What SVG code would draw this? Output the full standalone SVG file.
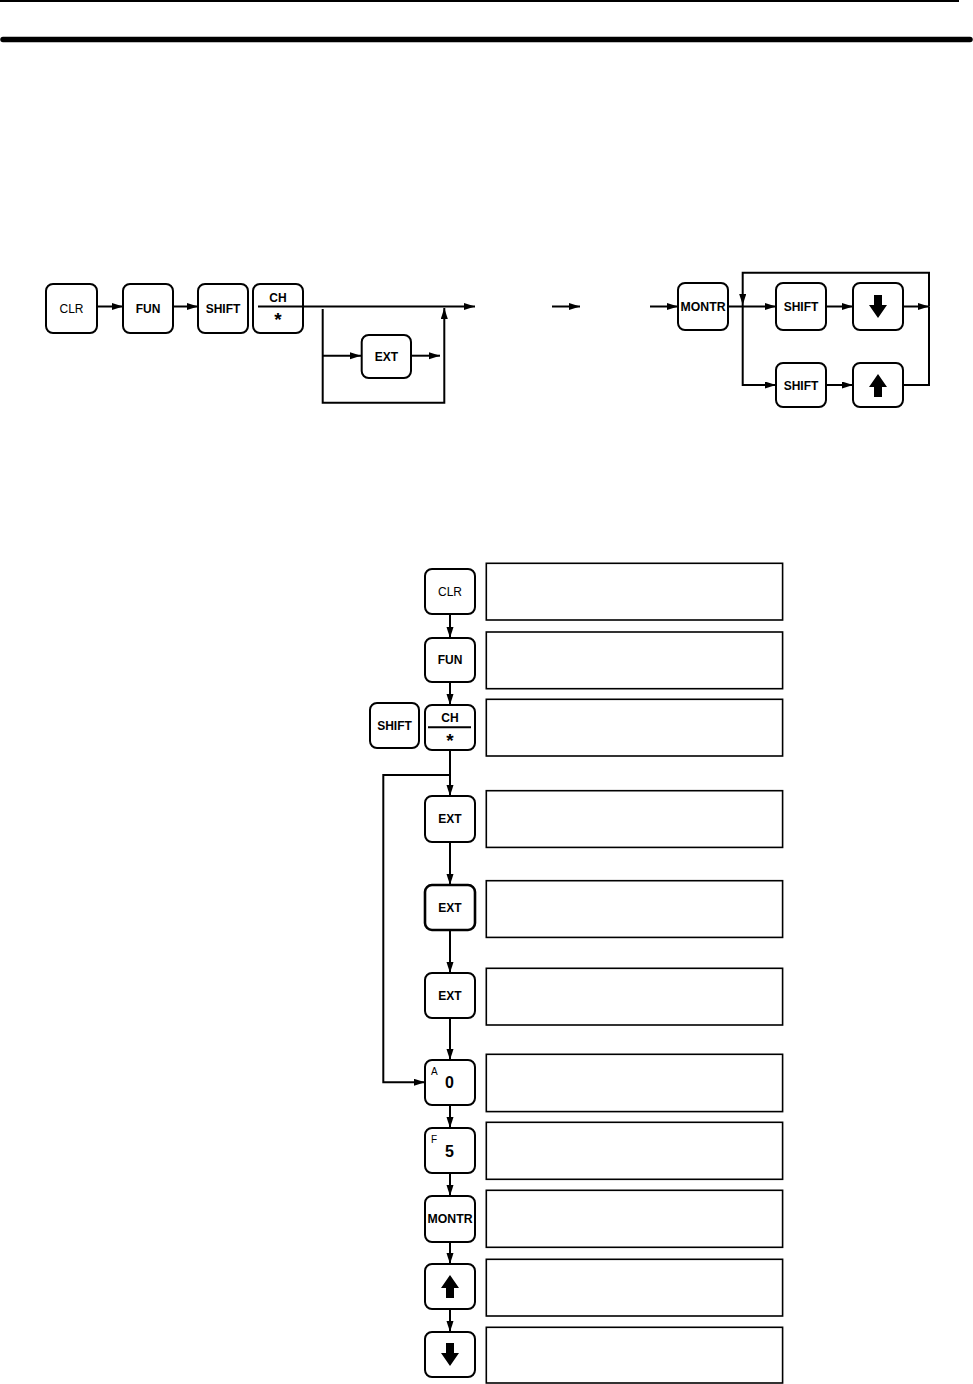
<svg xmlns="http://www.w3.org/2000/svg" width="973" height="1384" viewBox="0 0 973 1384">
<style>
.key{fill:#fff;stroke:#000;stroke-width:2}
.keyb{fill:#fff;stroke:#000;stroke-width:2.6}
.box{fill:#fff;stroke:#000;stroke-width:1.6}
.ln{fill:none;stroke:#000;stroke-width:2}
.t{font-family:"Liberation Sans",Arial,sans-serif;font-size:12px;font-weight:bold;text-anchor:middle}
.tr{font-family:"Liberation Sans",Arial,sans-serif;font-size:12px;text-anchor:middle}
.big{font-family:"Liberation Sans",Arial,sans-serif;font-size:16px;font-weight:bold;text-anchor:middle}
.sup{font-family:"Liberation Sans",Arial,sans-serif;font-size:10px}
.star{font-family:"Liberation Sans",Arial,sans-serif;font-size:19px;font-weight:bold;text-anchor:middle}
</style>
<defs>
<marker id="ah" markerUnits="userSpaceOnUse" markerWidth="12" markerHeight="8" refX="11" refY="3.5" orient="auto">
<path d="M0,0 L11,3.5 L0,7 z" fill="#000"/>
</marker>
<symbol id="dn" viewBox="-9 -12 18 24" overflow="visible">
<path d="M-4,-12 H4 V-2 H9 L0,11 L-9,-2 H-4 z" fill="#000"/>
</symbol>
<symbol id="up" viewBox="-9 -12 18 24" overflow="visible">
<path d="M-4,12 H4 V2 H9 L0,-11 L-9,2 H-4 z" fill="#000"/>
</symbol>
</defs>

<g id="page-rules">
<line x1="0" y1="1" x2="959" y2="1" stroke="#000" stroke-width="2"/>
<line x1="3" y1="39.5" x2="970" y2="39.5" stroke="#000" stroke-width="5.5" stroke-linecap="round"/>
</g>

<g id="connectors">
<line class="ln" x1="97" y1="306.5" x2="123" y2="306.5" marker-end="url(#ah)"/>
<line class="ln" x1="173" y1="306.5" x2="198" y2="306.5" marker-end="url(#ah)"/>
<line class="ln" x1="303" y1="306.5" x2="475" y2="306.5" marker-end="url(#ah)"/>
<polyline class="ln" points="322.7,309 322.7,402.7 444.3,402.7 444.3,308" marker-end="url(#ah)"/>
<line class="ln" x1="322.7" y1="355.7" x2="361" y2="355.7" marker-end="url(#ah)"/>
<line class="ln" x1="411" y1="355.7" x2="440" y2="355.7" marker-end="url(#ah)"/>
<line class="ln" x1="552" y1="306.5" x2="580" y2="306.5" marker-end="url(#ah)"/>
<line class="ln" x1="650" y1="306.5" x2="678" y2="306.5" marker-end="url(#ah)"/>
<line class="ln" x1="728" y1="306.5" x2="776" y2="306.5" marker-end="url(#ah)"/>
<line class="ln" x1="826" y1="306.5" x2="853" y2="306.5" marker-end="url(#ah)"/>
<line class="ln" x1="903" y1="306.5" x2="929" y2="306.5" marker-end="url(#ah)"/>
<polyline class="ln" points="929,306.5 929,272.7 742.7,272.7 742.7,305" marker-end="url(#ah)"/>
<polyline class="ln" points="742.7,305 742.7,385 776,385" marker-end="url(#ah)"/>
<line class="ln" x1="826" y1="385" x2="853" y2="385" marker-end="url(#ah)"/>
<polyline class="ln" points="903,385 929,385 929,306.5"/>
<line class="ln" x1="450" y1="614" x2="450" y2="638" marker-end="url(#ah)"/>
<line class="ln" x1="450" y1="682" x2="450" y2="705" marker-end="url(#ah)"/>
<line class="ln" x1="450" y1="750" x2="450" y2="796" marker-end="url(#ah)"/>
<line class="ln" x1="450" y1="842" x2="450" y2="885" marker-end="url(#ah)"/>
<line class="ln" x1="450" y1="930" x2="450" y2="973" marker-end="url(#ah)"/>
<line class="ln" x1="450" y1="1018" x2="450" y2="1060" marker-end="url(#ah)"/>
<polyline class="ln" points="450,775 383.3,775 383.3,1082.3 425,1082.3" marker-end="url(#ah)"/>
<line class="ln" x1="450" y1="1105" x2="450" y2="1128" marker-end="url(#ah)"/>
<line class="ln" x1="450" y1="1173" x2="450" y2="1196" marker-end="url(#ah)"/>
<line class="ln" x1="450" y1="1242" x2="450" y2="1264" marker-end="url(#ah)"/>
<line class="ln" x1="450" y1="1309" x2="450" y2="1332" marker-end="url(#ah)"/>
</g>

<g id="t-clr"><rect class="key" x="46" y="284" width="51" height="49" rx="7"/><text class="tr" x="71.5" y="312.5">CLR</text></g>
<g id="t-fun"><rect class="key" x="123" y="284" width="50" height="49" rx="7"/><text class="t" x="148" y="312.5">FUN</text></g>
<g id="t-shift"><rect class="key" x="198" y="284" width="50" height="49" rx="7"/><text class="t" x="223" y="312.5">SHIFT</text></g>
<g id="t-ch"><rect class="key" x="253" y="284" width="50" height="49" rx="7"/><text class="t" x="278" y="302">CH</text><line class="ln" x1="258" y1="306.5" x2="303" y2="306.5"/><text class="star" x="278" y="326">*</text></g>
<g id="t-ext"><rect class="key" x="361.7" y="335" width="49.3" height="43" rx="7"/><text class="t" x="386.3" y="360.5">EXT</text></g>
<g id="t-montr"><rect class="key" x="678" y="283" width="50" height="47" rx="7"/><text class="t" x="703" y="310.5" textLength="45" lengthAdjust="spacingAndGlyphs">MONTR</text></g>
<g id="t-shift2"><rect class="key" x="776" y="283" width="50" height="47" rx="7"/><text class="t" x="801" y="311">SHIFT</text></g>
<g id="t-down"><rect class="key" x="853" y="283" width="50" height="47" rx="7"/><use href="#dn" x="869" y="295" width="18" height="24"/></g>
<g id="t-shift3"><rect class="key" x="776" y="363" width="50" height="44" rx="7"/><text class="t" x="801" y="389.5">SHIFT</text></g>
<g id="t-up"><rect class="key" x="853" y="363" width="50" height="44" rx="7"/><use href="#up" x="869" y="373" width="18" height="24"/></g>

<g id="c-clr"><rect class="key" x="425" y="569" width="50" height="45" rx="7"/><text class="tr" x="450" y="595.5">CLR</text><rect class="box" x="486.3" y="563.3" width="296.3" height="56.7"/></g>
<g id="c-fun"><rect class="key" x="425" y="638" width="50" height="44" rx="7"/><text class="t" x="450" y="664">FUN</text><rect class="box" x="486.3" y="632" width="296.3" height="56.7"/></g>
<g id="c-shift"><rect class="key" x="370" y="703" width="49" height="45" rx="7"/><text class="t" x="394.5" y="729.5">SHIFT</text></g>
<g id="c-ch"><rect class="key" x="425" y="705" width="50" height="45" rx="7"/><text class="t" x="450" y="722">CH</text><line class="ln" x1="428" y1="727.3" x2="471" y2="727.3"/><text class="star" x="450" y="747">*</text><rect class="box" x="486.3" y="699.3" width="296.3" height="56.7"/></g>
<g id="c-ext1"><rect class="key" x="425" y="796" width="50" height="46" rx="7"/><text class="t" x="450" y="822.5">EXT</text><rect class="box" x="486.3" y="790.7" width="296.3" height="56.7"/></g>
<g id="c-ext2"><rect class="keyb" x="425" y="885" width="50" height="45" rx="7"/><text class="t" x="450" y="911.5">EXT</text><rect class="box" x="486.3" y="880.7" width="296.3" height="56.7"/></g>
<g id="c-ext3"><rect class="key" x="425" y="973" width="50" height="45" rx="7"/><text class="t" x="450" y="999.5">EXT</text><rect class="box" x="486.3" y="968.3" width="296.3" height="56.7"/></g>
<g id="c-0"><rect class="key" x="425" y="1060" width="50" height="45" rx="7"/><text class="sup" x="431" y="1074.5">A</text><text class="big" x="449.5" y="1088">0</text><rect class="box" x="486.3" y="1054.3" width="296.3" height="57.3"/></g>
<g id="c-5"><rect class="key" x="425" y="1128" width="50" height="45" rx="7"/><text class="sup" x="431" y="1143">F</text><text class="big" x="449.5" y="1156.5">5</text><rect class="box" x="486.3" y="1122.3" width="296.3" height="57"/></g>
<g id="c-montr"><rect class="key" x="425" y="1196" width="50" height="46" rx="7"/><text class="t" x="450" y="1223" textLength="45" lengthAdjust="spacingAndGlyphs">MONTR</text><rect class="box" x="486.3" y="1190.3" width="296.3" height="57"/></g>
<g id="c-up"><rect class="key" x="425" y="1264" width="50" height="45" rx="7"/><use href="#up" x="441" y="1274" width="18" height="24"/><rect class="box" x="486.3" y="1259.3" width="296.3" height="56.7"/></g>
<g id="c-down"><rect class="key" x="425" y="1332" width="50" height="45" rx="7"/><use href="#dn" x="441" y="1343" width="18" height="24"/><rect class="box" x="486.3" y="1327.3" width="296.3" height="55.7"/></g>
</svg>
